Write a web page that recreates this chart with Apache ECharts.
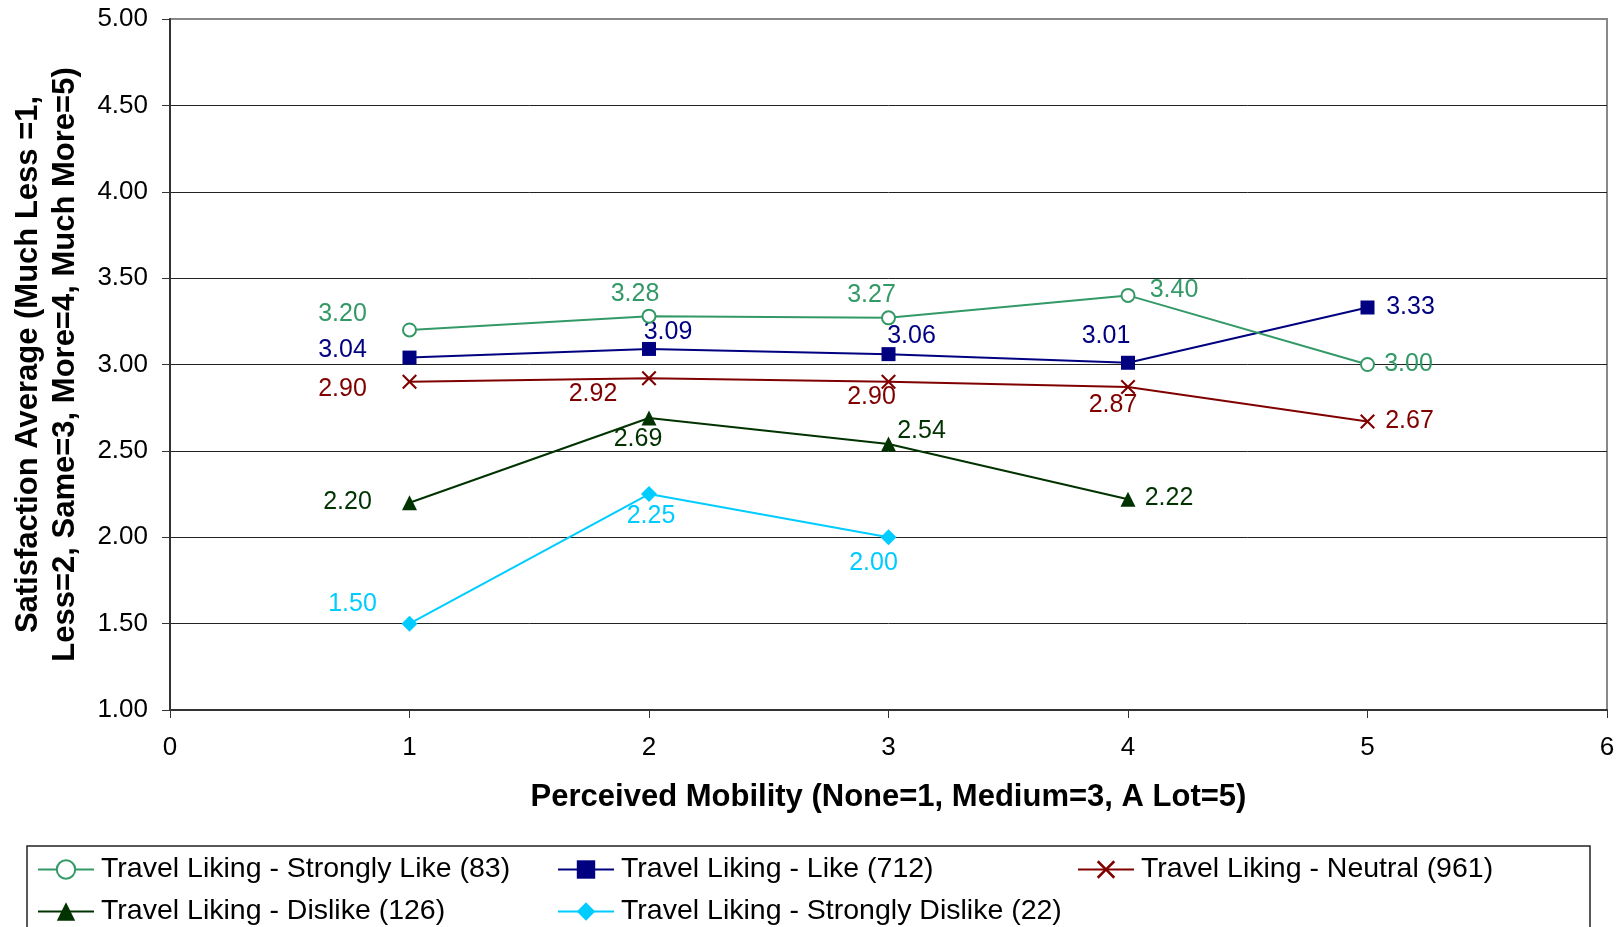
<!DOCTYPE html>
<html>
<head>
<meta charset="utf-8">
<script src="https://cdn.jsdelivr.net/npm/echarts@6/dist/echarts.min.js"></script>
<style>
html,body{margin:0;padding:0;background:#fff;}
#chart{width:1621px;height:927px;}
</style>
</head>
<body>
<div id="chart"></div>
<script>
// ---- data ----
const xValues = [1, 2, 3, 4, 5];
const seriesNames = [
  'Travel Liking - Strongly Like (83)',
  'Travel Liking - Like (712)',
  'Travel Liking - Neutral (961)',
  'Travel Liking - Dislike (126)',
  'Travel Liking - Strongly Dislike (22)'
];
const stronglyLike = [3.20, 3.28, 3.27, 3.40, 3.00];
const like = [3.04, 3.09, 3.06, 3.01, 3.33];
const neutral = [2.90, 2.92, 2.90, 2.87, 2.67];
const dislike = [2.20, 2.69, 2.54, 2.22];
const stronglyDislike = [1.50, 2.25, 2.00];
const yTicks = [1.0, 1.5, 2.0, 2.5, 3.0, 3.5, 4.0, 4.5, 5.0];

// ---- styles ----
const colors = ['#339966', '#000080', '#800000', '#003300', '#00CCFF'];
const symbols = [
  'emptyCircle',
  'rect',
  'path://M1,0 L5,4 L9,0 L10,1 L6,5 L10,9 L9,10 L5,6 L1,10 L0,9 L4,5 L0,1 Z',
  'triangle',
  'diamond'
];
const symbolSizes = [13, 14, 15, 15, 16];
const labelOffsets = [
  [[-67, -16], [-14, -22], [-17, -23], [46, -5], [41, 0]],
  [[-67, -7], [19, -17], [23, -18], [-22, -27], [43, 0]],
  [[-67, 7], [-56, 16], [-17, 15], [-15, 18], [42, 0]],
  [[-62, -1], [-11, 21], [33, -13], [41, -1]],
  [[-57, -20], [2, 22], [-15, 26]]
];
const allValues = [stronglyLike, like, neutral, dislike, stronglyDislike];
const FONT = "'Liberation Sans', Arial, sans-serif";

const series = allValues.map((vals, i) => ({
  name: seriesNames[i],
  type: 'line',
  symbol: symbols[i],
  symbolSize: symbolSizes[i],
  showAllSymbol: true,
  lineStyle: { color: colors[i], width: 2 },
  itemStyle: { color: colors[i], borderColor: colors[i], borderWidth: i === 0 ? 2 : 0 },
  emphasis: { disabled: true },
  z: 10 - i,
  data: vals.map((v, j) => ({
    value: [xValues[j], v],
    label: {
      show: true,
      position: 'inside',
      offset: labelOffsets[i][j],
      formatter: (p) => p.value[1].toFixed(2),
      color: colors[i],
      fontSize: 25,
      fontFamily: FONT
    }
  }))
}));

const legendPos = [
  [37, 855], [557, 855], [1077, 855], [37, 897], [557, 897]
];
const legends = seriesNames.map((n, i) => ({
  data: [n],
  left: legendPos[i][0],
  top: legendPos[i][1],
  padding: 0,
  itemWidth: 56,
  itemHeight: 23,
  selectedMode: false,
  lineStyle: { width: 2 },
  textStyle: { fontSize: 28.5, color: '#000', fontFamily: FONT, padding: [0, 0, 0, 2] }
}));

const chart = echarts.init(document.getElementById('chart'), null, { renderer: 'canvas' });
chart.setOption({
  backgroundColor: '#fff',
  animation: false,
  color: colors,
  grid: {
    left: 170, right: 14, top: 19, bottom: 217,
    show: true, borderColor: '#888', borderWidth: 2, backgroundColor: 'transparent'
  },
  legend: legends,
  graphic: [{
    type: 'rect',
    shape: { x: 27, y: 846, width: 1563, height: 100 },
    style: { fill: 'none', stroke: '#222', lineWidth: 1.5 },
    z: -1
  }],
  xAxis: {
    type: 'value',
    min: 0, max: 6, interval: 1,
    name: 'Perceived Mobility (None=1, Medium=3, A Lot=5)',
    nameLocation: 'middle',
    nameGap: 72,
    nameTextStyle: { fontSize: 31, fontWeight: 'bold', color: '#000', fontFamily: FONT },
    axisLine: { show: true, lineStyle: { color: '#333', width: 2 } },
    axisTick: { show: true, length: 8, lineStyle: { color: '#333', width: 1 } },
    axisLabel: { fontSize: 26, color: '#000', margin: 25, fontFamily: FONT },
    splitLine: { show: false }
  },
  yAxis: {
    type: 'value',
    min: yTicks[0], max: yTicks[yTicks.length - 1], interval: 0.5,
    name: 'Satisfaction Average (Much Less =1,\nLess=2, Same=3, More=4, Much More=5)',
    nameLocation: 'middle',
    nameGap: 86,
    nameRotate: 90,
    nameTextStyle: { fontSize: 31, fontWeight: 'bold', color: '#000', fontFamily: FONT, lineHeight: 37, align: 'center' },
    axisLine: { show: true, lineStyle: { color: '#333', width: 2 } },
    axisTick: { show: true, length: 8, lineStyle: { color: '#333', width: 1 } },
    axisLabel: { fontSize: 26, color: '#000', margin: 22, fontFamily: FONT, formatter: (v) => v.toFixed(2) },
    splitLine: { show: true, lineStyle: { color: ['#222','#222','#222','#222','#222','#222','#222','#222','#888'], width: 1 } }
  },
  series: series
});
</script>
</body>
</html>
